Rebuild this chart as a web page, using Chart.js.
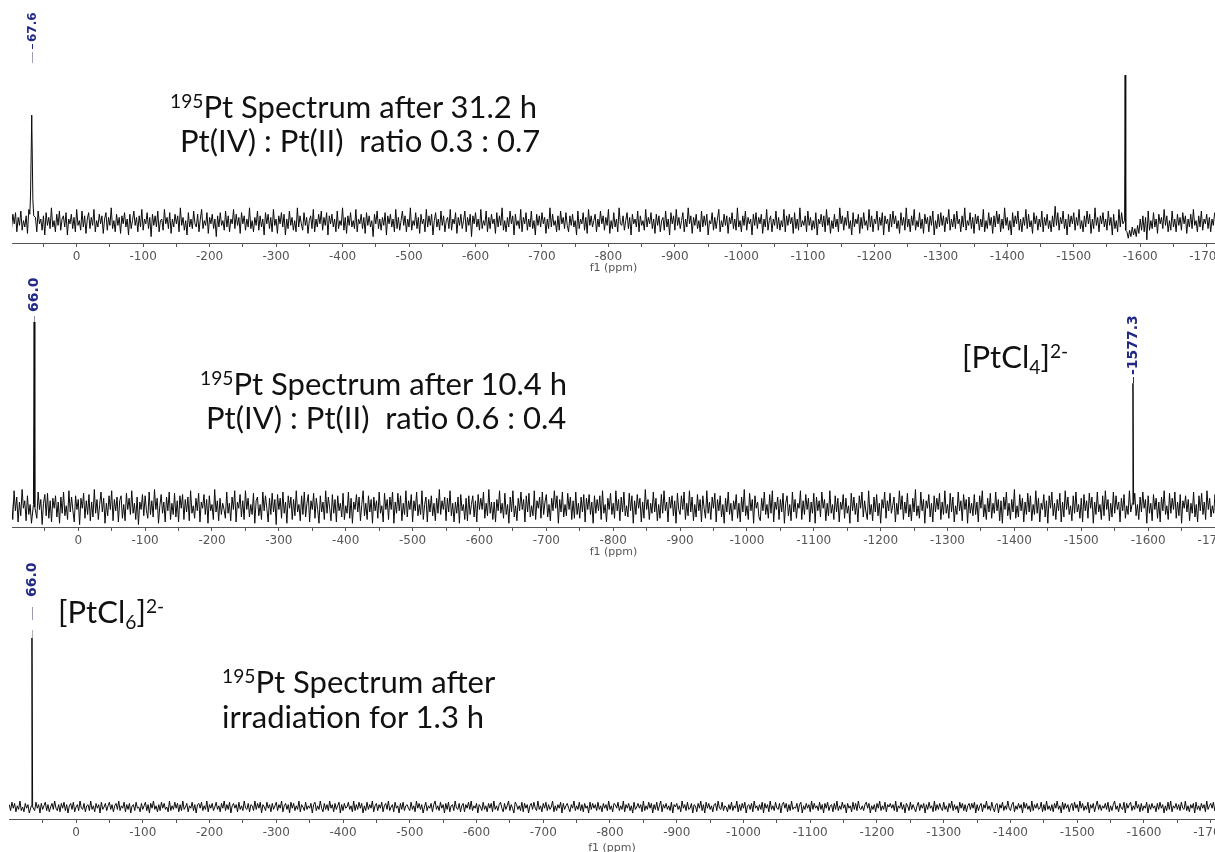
<!DOCTYPE html>
<html>
<head>
<meta charset="utf-8">
<title>195Pt NMR spectra</title>
<script src="https://cdn.jsdelivr.net/npm/chart.js@4.4.1/dist/chart.umd.min.js"></script>
<style>
    html, body { margin: 0; padding: 0; background: #fff; overflow: hidden; }
    #page { position: relative; width: 1215px; height: 852px; overflow: hidden; }
    canvas { position: absolute; left: 0; }
    .note {
        position: absolute;
        font-family: Lato, "Open Sans", sans-serif;
        font-size: 31px;
        line-height: 34px;
        color: #111;
        white-space: pre;
    }
    .note sup { font-size: 0.62em; position: relative; top: -0.5em; vertical-align: baseline; line-height: 0; }
    .note sub { font-size: 0.62em; position: relative; top: 0.3em; vertical-align: baseline; line-height: 0; }
</style>
</head>
<body>
<div id="page">
    <canvas id="spec1" width="1215" height="275" style="top:0px"></canvas>
    <canvas id="spec2" width="1215" height="284" style="top:275px"></canvas>
    <canvas id="spec3" width="1215" height="295" style="top:560px"></canvas>

    <div class="note" style="left:170px; top:89px"><sup>195</sup>Pt Spectrum after 31.2 h</div>
    <div class="note" style="left:180px; top:123px">Pt(IV) : Pt(II)  ratio 0.3 : 0.7</div>

    <div class="note" style="left:200px; top:366px"><sup>195</sup>Pt Spectrum after 10.4 h</div>
    <div class="note" style="left:206px; top:400px">Pt(IV) : Pt(II)  ratio 0.6 : 0.4</div>
    <div class="note" style="left:962px; top:339px">[PtCl<sub>4</sub>]<sup>2-</sup></div>

    <div class="note" style="left:58px; top:594px">[PtCl<sub>6</sub>]<sup>2-</sup></div>
    <div class="note" style="left:222px; top:664px"><sup>195</sup>Pt Spectrum after</div>
    <div class="note" style="left:222px; top:699px">irradiation for 1.3 h</div>
</div>

<script>
// chemical shift grid (ppm) shared by the three spectra
const ppmStart = 100;
const ppmStep = -2;

// tick positions on the f1 axis (labels only on the hundreds)
const tickValues = [50, 0, -50, -100, -150, -200, -250, -300, -350, -400, -450, -500, -550, -600,
    -650, -700, -750, -800, -850, -900, -950, -1000, -1050, -1100, -1150, -1200, -1250, -1300,
    -1350, -1400, -1450, -1500, -1550, -1600, -1650, -1700];

// baseline noise (arbitrary intensity, one value per 2 ppm)
const noise31h = [
    2,-4,5,-1,6,-6,3,-2,7,-5,1,-3,4,-7,8,-2,0,5,-4,3,
    -6,7,-1,2,-5,4,-8,6,-2,3,-4,9,-3,1,-6,5,-2,7,-5,2,
    4,-3,6,-8,2,-1,5,-4,3,-6,8,-2,1,-5,7,-3,4,-7,2,6,
    -4,3,-2,8,-6,1,-3,5,-1,4,-7,2,6,-5,3,-2,9,-4,1,-6,
    5,-2,3,-7,4,-1,6,-3,2,-8,5,-4,1,7,-2,3,-6,4,-3,8,
    -5,2,-1,6,-4,3,-9,5,-2,4,-3,7,-6,1,2,-5,8,-1,3,-4,
    6,-7,2,-3,5,-1,4,-6,9,-2,3,-5,1,-8,6,-3,2,-4,7,-1,
    -3,5,-6,2,8,-4,1,-2,6,-7,3,-1,5,-4,2,-9,4,-3,6,-2,
    1,-5,7,-3,4,-6,2,-1,8,-4,5,-2,3,-7,6,-1,4,-5,2,-3,
    9,-4,1,-6,3,-2,7,-5,4,-3,2,-8,6,-1,5,-4,3,-6,8,-2,
    2,-7,4,-1,6,-3,5,-8,2,-4,7,-2,3,-5,1,-6,9,-3,4,-1,
    -5,6,-2,3,-7,1,4,-4,8,-6,2,-3,5,-1,7,-5,3,-2,6,-8,
    4,-1,5,-3,2,-6,7,-4,1,-2,9,-5,3,-7,4,-2,6,-3,1,-4,
    8,-6,2,-1,5,-4,3,-7,6,-2,4,-3,1,-9,5,-1,7,-4,2,-5,
    3,-2,6,-8,4,-1,5,-3,2,-6,8,-4,3,-5,1,7,-2,4,-6,2,
    -3,9,-5,1,-2,6,-4,3,-7,5,-1,2,-6,8,-3,4,-2,5,-8,1,
    6,-3,2,-5,7,-2,4,-6,1,3,-4,8,-5,2,-1,6,-7,3,-2,5,
    -4,1,7,-6,3,-2,5,-9,4,-1,6,-3,2,-5,8,-4,1,-2,7,-6,
    3,-4,5,-1,2,-7,6,-3,4,-2,9,-5,1,-6,3,-3,7,-1,4,-8,
    5,-2,1,-4,8,-6,3,-1,6,-5,2,-3,7,-4,1,-8,5,-2,4,-3,
    6,-1,3,-7,2,-4,9,-3,5,-2,1,-6,4,-5,7,-1,3,-4,6,-2,
    -6,4,-2,5,-3,1,-8,7,-4,2,-1,6,-5,3,-7,8,-2,4,-3,1,
    5,-6,2,-3,7,-1,4,-5,3,-2,8,-7,1,-4,6,-3,2,-6,9,-1,
    -2,4,-5,1,6,-4,3,-8,5,-1,2,-3,7,-6,4,-2,1,-5,8,-3,
    3,-1,6,-4,2,-7,5,-2,4,-6,1,3,-5,7,-3,2,-8,6,-1,4,
    -5,8,-2,3,-4,1,6,-6,2,-3,9,-1,4,-7,3,-2,5,-4,1,-6,
    7,-3,4,-2,5,-8,1,-1,6,-5,3,-4,2,8,-6,1,-3,5,-2,4,
    -7,3,-1,6,-4,2,-5,9,-3,1,-6,4,-2,7,-5,3,-1,2,-8,5,
    -2,6,-4,3,-1,5,-7,2,-3,8,-5,1,4,-6,2,-2,7,-4,3,-5,
    1,-3,8,-6,4,-2,5,-1,3,-7,6,-4,2,-5,9,-3,1,-2,4,-6,
    7,-2,3,-5,1,-4,6,-8,2,-1,5,-3,4,-6,8,-2,3,-7,1,-4,
    5,-3,2,-6,9,-1,4,-5,3,-2,7,-4,1,-8,6,-3,2,-1,5,-7,
    3,-4,6,-2,1,-5,8,-3,4,-6,2,-1,7,-5,3,-2,6,-8,4,-1,
    2,-6,5,-3,7,-1,4,-4,1,-7,6,-2,3,-5,9,-3,2,-6,4,-2,
    8,-5,1,-3,6,-4,2,-7,5,-1,3,-6,4,-2,7,-8,1,-4,5,-3,
    6,-2,4,-6,3,-1,8,-5,2,-3,5,-4,7,-1,2,-6,4,-3,9,-5,
    1,-2,6,-4,3,-7,5,-1,4,-5,2,-3,8,-6,1,-4,6,-2,3,-7,
    4,-3,7,-1,5,-6,2,-4,9,-2,3,-5,1,-8,6,-3,4,-1,7,-5,
    2,-6,3,-2,8,-4,5,-3,1,-7,6,-1,4,-5,2,-3,7,-6,3,-2,
    5,-4,1,-6,4,-3,10,-2,6,-5,3,-1,7,-4,2,-8,5,-3,4,-1,
    6,-5,3,-2,8,-4,1,-6,4,-3,7,-1,5,-7,2,-4,9,-2,3,-6,
    4,-1,6,-3,2,-5,7,-2,3,-8,5,-4,1,-6,8,-3,6,-1,4,-2,
    -6,-10,-5,-9,-3,-8,-4,-9,-2,-7,2,-5,4,-6,3,-11,7,-5,1,-4,
    6,-3,2,-7,5,-1,3,-4,8,-2,4,-6,1,-5,7,-3,2,-6,5,-2,
    3,-5,6,-1,4,-7,2,-3,5,-4,8,-2,1,-6,4,-3,7,-5,2,-1,
    5,-4,3,-6,2,-2,6
];
const noise10h = [
    6,-10,13,-3,8,-12,4,-7,14,-1,5,-11,9,-6,2,-13,10,-4,7,-9,
    12,-2,6,-14,3,10,-7,11,-9,5,-12,7,-1,9,-8,4,-13,8,-5,12,
    -7,1,-10,13,-4,8,-3,-12,9,-2,6,-14,7,-1,11,-9,5,-6,10,-11,
    4,-8,14,-5,6,-10,2,12,-4,7,-13,3,-7,9,-2,13,-11,6,-3,8,
    -12,5,9,-9,2,-11,11,-2,7,-6,13,-5,3,-10,8,-14,4,-2,10,-7,
    9,-3,-9,12,-6,5,-8,14,-2,7,-13,1,10,-5,4,-12,8,-3,12,-10,
    3,-6,11,-8,5,-12,9,-1,10,-10,6,-4,8,-11,13,-5,1,-9,7,-3,
    11,-12,4,-1,10,-6,6,-13,9,-3,2,-10,14,-4,5,-11,7,-6,3,-2,
    -9,12,-5,3,-11,8,-2,13,-12,4,-1,10,-8,5,-10,13,-2,7,-8,2,
    -6,11,-13,5,8,-7,2,-10,12,-3,9,-1,-12,7,-6,11,-4,6,-14,10,
    -2,7,-9,12,-5,4,-13,9,-1,8,-10,6,-7,13,-4,2,-11,9,-6,12,
    -8,3,10,-12,5,-2,11,-9,7,-2,-13,9,-4,4,-10,13,-5,8,-1,-11,
    10,-5,6,-12,9,-3,3,-8,11,-10,1,-5,12,-9,7,-13,4,-2,10,-4,
    8,-11,2,13,-7,3,-10,9,-4,6,-13,8,-3,5,-9,12,-5,1,-12,11,
    -2,6,-10,8,-2,12,-13,4,-5,11,-3,9,-11,3,-6,13,-8,5,-2,10,
    -12,5,-3,12,-7,2,-6,13,-10,2,8,-12,6,-4,9,-7,3,-11,7,-5,
    14,-6,5,-2,8,-11,7,-4,13,-7,3,-12,4,-5,8,-13,10,-3,2,-10,
    7,-11,9,-6,2,9,-8,5,-12,10,-2,7,-2,12,-9,3,-7,14,-5,4,
    -10,4,-12,6,-3,13,-5,3,-9,11,-6,2,-13,8,-4,13,-8,1,-11,7,
    -3,12,-2,6,-12,9,-4,11,-8,1,-7,13,-10,5,-1,8,-9,12,-6,4,
    10,-8,2,-11,7,-3,13,-1,9,-13,6,-4,12,-8,2,-7,11,-2,8,-10,
    5,-9,12,-6,3,-9,8,-4,10,-12,7,-2,10,-6,4,-13,9,-5,6,-3,
    9,-10,13,-5,2,-12,7,-2,11,-6,3,-9,13,-3,6,-11,8,-4,12,-7,
    1,-8,11,-3,9,-13,5,-6,10,-1,7,-12,4,-9,14,-2,6,-10,3,-5,
    12,-4,7,-11,2,-9,10,-5,13,-3,4,-12,8,-1,9,-7,5,-13,11,-2,
    -6,9,-2,12,-10,3,-7,13,-4,8,-11,2,-8,10,-3,6,-12,9,-1,-9,
    13,-5,4,-10,8,-1,11,-12,6,-3,9,-8,2,-13,7,-4,12,-6,3,-11,
    5,-2,10,-9,3,-12,8,-4,14,-7,1,-10,11,-3,6,-13,9,-1,4,-8,
    -11,7,-3,12,-6,2,-9,10,-5,13,-12,4,-2,8,-10,6,-4,11,-13,3,
    9,-7,2,-11,12,-4,6,-9,3,-1,13,-10,5,-6,10,-2,7,-12,4,-5,
    11,-13,8,-3,5,-8,12,-1,6,-11,3,-7,13,-5,2,-10,9,-4,7,-12,
    4,-2,10,-9,7,-5,1,-13,11,-3,8,-6,3,-12,9,-1,12,-8,5,-4,
    -10,13,-6,2,-11,8,-4,10,-7,3,-13,6,-1,12,-9,5,-3,11,-5,1,
    8,-12,3,-6,13,-2,9,-10,4,-5,11,-8,2,-11,7,-4,14,-7,1,-9,
    12,-3,6,-13,5,-1,10,-8,3,-12,9,-4,7,-2,11,-10,4,-6,13,-5,
    2,-9,11,-4,8,-12,1,-6,12,-3,5,-11,10,-2,6,-13,8,-5,3,-7,
    10,-6,4,-12,9,-1,13,-8,2,-10,7,-4,11,-9,3,-5,12,-3,6,-11,
    5,-13,8,-2,12,-7,3,-10,6,-4,14,-9,1,-8,10,-3,7,-12,4,-6,
    11,-4,9,-11,2,-6,13,-5,7,-12,3,-2,10,-8,5,-13,9,-1,12,-7,
    3,-10,6,-3,11,-12,4,-8,13,-2,8,-6,1,-11,9,-5,12,-4,2,-9,
    7,-12,10,-3,5,-9,11,-1,8,-13,4,-6,12,-4,2,-10,9,-7,13,-2,
    6,-11,3,-8,12,-5,9,-2,4,-12,7,-3,10,-9,1,-6,13,-4,5,-8,
    11,-7,2,-10,8,-4,12,-1,6,-13,9,-5,3,-11,10,-2,7,-9,4,-12,
    8,-3,13,-6,1,-10,11,-5,7,-2,12,-9,4,-7,10,-13,5,-1,9,-4,
    6,-11,3,-5,12,-8,2,-12,9,-3,11,-6,4,-10,13,-2,7,-8,1,-5,
    10,-7,4,-12,8,-2,5
];
const noise1h = [
    2,-3,4,-1,3,-4,1,-2,5,-3,0,-4,3,-1,2,-5,4,-2,1,-3,
    4,-1,2,-5,3,-2,1,4,-3,2,-4,0,3,-2,5,-1,-3,2,-4,3,
    -1,4,-3,2,-5,1,3,-2,4,-4,0,2,-3,5,-1,-2,3,-4,1,2,
    -3,5,-2,1,-4,3,-1,2,-5,4,-2,0,3,-3,1,4,-2,2,-4,1,
    3,-2,5,-3,1,-1,4,-4,2,-2,3,-5,1,2,-3,4,-1,0,-4,3,
    -2,1,4,-3,2,-5,3,-1,5,-2,1,-4,2,-3,4,-1,3,-2,0,-4,
    5,-3,1,-2,4,-1,3,-4,2,-3,5,-2,0,3,-4,1,-1,4,-3,2,
    -5,2,3,-1,4,-3,1,-2,5,-4,2,-1,3,-3,0,4,-2,1,-4,3,
    -1,5,-3,2,-2,4,-5,1,3,-1,2,-4,4,-2,1,-3,5,-1,-2,3,
    -4,2,1,-3,5,-2,3,-1,4,-5,2,0,-3,4,-1,2,-4,3,-2,1,
    4,-3,2,-1,5,-4,1,3,-2,2,-5,4,-1,3,-3,1,-2,5,-4,2,
    0,-3,4,-2,1,-1,3,-5,2,4,-3,1,-2,5,-1,-4,3,-2,2,-3,
    5,-1,2,-4,3,-2,1,4,-5,2,-3,3,-1,0,4,-2,1,-4,5,-3,
    2,-2,4,-1,3,-5,1,-3,4,-2,2,-1,5,-4,1,3,-3,2,-1,4,
    -4,1,3,-2,5,-3,0,2,-4,4,-1,1,-5,3,-2,4,-3,1,2,-1,
    -3,4,-2,1,-4,5,-1,3,-2,2,-5,0,4,-3,1,-1,3,-4,2,5,
    -2,1,-3,4,-1,2,-5,3,-2,4,-4,1,2,-3,5,-1,-2,3,-4,1,
    3,-4,2,-1,4,-2,5,-3,1,-1,3,-5,2,0,-3,4,-2,1,-4,3,
    -1,3,-4,5,-2,1,-3,2,4,-1,-4,3,-2,1,5,-3,2,-1,-5,4,
    2,-2,1,-3,4,-4,3,-1,2,-5,1,3,-2,4,-1,-3,5,-2,1,-4,
    3,-1,4,-3,2,-2,0,5,-4,1,-3,2,-1,4,-5,3,-2,1,3,-1,
    -4,2,-1,5,-3,1,-2,4,-3,2,-4,3,-1,1,-5,4,-2,3,-1,2,
    -3,4,-2,1,-4,3,-1,2,-3,5,-2,1,-4,3,2,-1,4,-3,1,-2,
    5,-4,2,-1,3,-3,1,-5,4,-2,0,3,-1,2,-4,5,-3,1,-2,4,
    -1,3,-5,2,-2,4,-3,1,5,-4,2,-1,3,-2,1,-3,4,-5,2,0,
    3,-2,1,-4,5,-1,2,-3,4,-2,-1,3,-5,2,1,-4,3,-1,5,-3,
    2,-5,4,-1,3,-2,1,-4,2,3,-3,5,-1,-2,4,-3,1,0,-4,2,
    -2,4,-3,1,-1,5,-4,2,-3,3,-1,4,-5,1,2,-2,3,-4,5,-1,
    1,-3,2,-2,4,-5,3,-1,2,-4,5,-2,1,-3,4,-1,-2,3,-5,2,
    4,-1,3,-4,2,-3,5,-2,0,-1,3,-4,2,4,-5,1,-2,3,-1,2,
    -4,5,-2,3,-1,1,-3,4,-2,2,-5,3,-1,4,-3,1,2,-4,3,-2,
    5,-3,1,-2,4,-1,2,-5,3,-1,1,-4,4,-2,3,-3,5,-1,-2,1,
    -3,2,4,-1,3,-5,1,-2,2,-4,3,-1,5,-3,1,-2,4,-4,2,0,
    3,-1,2,-3,5,-4,1,-1,4,-2,2,-5,3,1,-3,4,-2,2,-1,-4,
    1,4,-3,2,-1,3,-5,2,-2,4,-1,1,-4,5,-3,2,-2,3,-1,-3,
    4,-2,1,-4,3,-1,5,-3,2,-2,1,-5,4,-1,3,-3,2,-4,1,3,
    -2,3,-1,4,-5,2,-3,1,3,-4,2,-1,5,-2,1,-3,4,-1,-4,2,
    3,-5,2,-1,4,-3,1,-2,5,-1,-3,2,4,-4,1,-2,3,-1,2,-5,
    4,-1,3,-2,1,-4,5,-3,2,-1,3,-2,-1,4,-4,2,-3,5,-2,1,
    -3,2,-4,3,-1,5,-2,1,-5,4,-2,3,-1,2,-4,1,3,-3,4,-1,
    2,-4,5,-1,3,-3,1,-2,4,-5,2,-1,3,-4,1,5,-2,2,-3,1,
    -1,3,-2,4,-4,1,-3,2,5,-2,1,-4,3,-1,-2,4,-5,3,-1,2,
    4,-3,1,-2,5,-1,2,-4,3,-3,1,-1,4,-5,2,-2,3,-1,1,-4,
    3,-2,4,-1,2,-5,1,-3,4,-2,5,-4,1,-1,3,-2,2,-3,4,-1,
    -2,5,-3,1,-4,2,-1,3,-5,4,-2,1,-3,3,-1,2,-4,5,-2,1,
    3,-1,4,-3,2,-2,1
];

// peak points [ppm, intensity]
const peaks31h = [[70.5, 5], [69.4, 17], [67.6, 67], [65.9, 14], [64.6, 4],
    [-1576.5, 1], [-1577.3, 92], [-1578.2, -5]];
const peaks10h = [[67, 2], [66.0, 148], [65, 0], [-1576.3, 3], [-1577.3, 99], [-1578.3, 2]];
const peaks1h = [[67, 1], [66.0, 141], [65, 0]];

// merge baseline and peak points into one trace
function buildSpectrum(noise, peaks) {
    const pts = [];
    noise.forEach((v, i) => {
        const x = ppmStart + i * ppmStep;
        // drop baseline points that sit under a peak
        if (peaks.some(p => Math.abs(p[0] - x) < 1.5)) return;
        pts.push({ x: x, y: v });
    });
    peaks.forEach(p => pts.push({ x: p[0], y: p[1] }));
    pts.sort((a, b) => b.x - a.x);
    return pts;
}

// rotated peak labels (MestReNova style)
const peakLabelPlugin = {
    id: "peakLabels",
    afterDatasetsDraw(chart, args, opts) {
        const ctx = chart.ctx;
        const xs = chart.scales.x;
        (opts.items || []).forEach(item => {
            const x = Math.round(xs.getPixelForValue(item.ppm)) + 0.5;
            ctx.save();
            ctx.translate(x, item.bottom);
            ctx.rotate(-Math.PI / 2);
            ctx.font = "bold " + item.size + "px 'DejaVu Sans'";
            ctx.fillStyle = "#232a86";
            ctx.textAlign = "left";
            ctx.textBaseline = "middle";
            ctx.fillText(item.text, 0, 0);
            ctx.restore();
            item.marks.forEach(m => {
                ctx.save();
                ctx.strokeStyle = m[2];
                ctx.lineWidth = 1;
                ctx.beginPath();
                ctx.moveTo(x, item.bottom + m[0]);
                ctx.lineTo(x, item.bottom + m[1]);
                ctx.stroke();
                ctx.restore();
            });
        });
    }
};

function makeChart(id, data, cfg) {
    const ctx = document.getElementById(id).getContext("2d");
    return new Chart(ctx, {
        type: "line",
        data: {
            datasets: [{
                data: data,
                borderColor: "#0a0a0a",
                borderWidth: 1,
                pointRadius: 0,
                tension: 0,
                fill: false
            }]
        },
        options: {
            responsive: false,
            animation: false,
            devicePixelRatio: 1,
            layout: { padding: { left: cfg.left, right: 0, top: 0, bottom: 0 } },
            plugins: {
                legend: { display: false },
                tooltip: { enabled: false },
                peakLabels: { items: cfg.labels }
            },
            scales: {
                x: {
                    type: "linear",
                    reverse: true,
                    min: cfg.xMin,
                    max: cfg.xMax,
                    afterBuildTicks: scale => {
                        scale.ticks = tickValues.map(v => ({ value: v }));
                    },
                    afterFit: scale => {
                        scale.height = cfg.axisHeight;
                        scale.paddingLeft = 0;
                        scale.paddingRight = 0;
                    },
                    ticks: {
                        autoSkip: false,
                        maxRotation: 0,
                        minRotation: 0,
                        padding: 3,
                        color: "#555",
                        font: { family: "DejaVu Sans", size: 12 },
                        callback: v => (v % 100 === 0 ? String(v) : "")
                    },
                    grid: {
                        display: true,
                        drawOnChartArea: false,
                        drawTicks: true,
                        tickLength: 4,
                        color: "#555"
                    },
                    border: { display: true, color: "#555", width: 1 },
                    title: {
                        display: true,
                        text: "f1 (ppm)",
                        color: "#555",
                        padding: 0,
                        font: { family: "DejaVu Sans", size: 11 }
                    }
                },
                y: { type: "linear", display: false, min: cfg.yMin, max: cfg.yMax }
            }
        },
        plugins: [peakLabelPlugin]
    });
}

makeChart("spec1", buildSpectrum(noise31h, peaks31h), {
    left: 12, xMin: -1712.5, xMax: 97.3, yMin: -13, yMax: 139, axisHeight: 32,
    labels: [
        { ppm: 67.6, text: "67.6", size: 12, bottom: 42, marks: [[2, 7, "#232a86"], [10, 21, "#a0a0b0"]] }
    ]
});

makeChart("spec2", buildSpectrum(noise10h, peaks10h), {
    left: 12, xMin: -1700, xMax: 99.1, yMin: -16, yMax: 185.6, axisHeight: 32,
    labels: [
        { ppm: 66.0, text: "66.0", size: 14, bottom: 37, marks: [[4, 10, "#9090a8"]] },
        { ppm: -1577.3, text: "-1577.3", size: 14, bottom: 100, marks: [[2, 8, "#333"]] }
    ]
});

makeChart("spec3", buildSpectrum(noise1h, peaks1h), {
    left: 9, xMin: -1706.4, xMax: 100.4, yMin: -10, yMax: 206, axisHeight: 36,
    labels: [
        { ppm: 66.0, text: "66.0", size: 14, bottom: 37, marks: [[10, 23, "#9a9aae"], [33, 41, "#b0b0b8"]] }
    ]
});
</script>
</body>
</html>
